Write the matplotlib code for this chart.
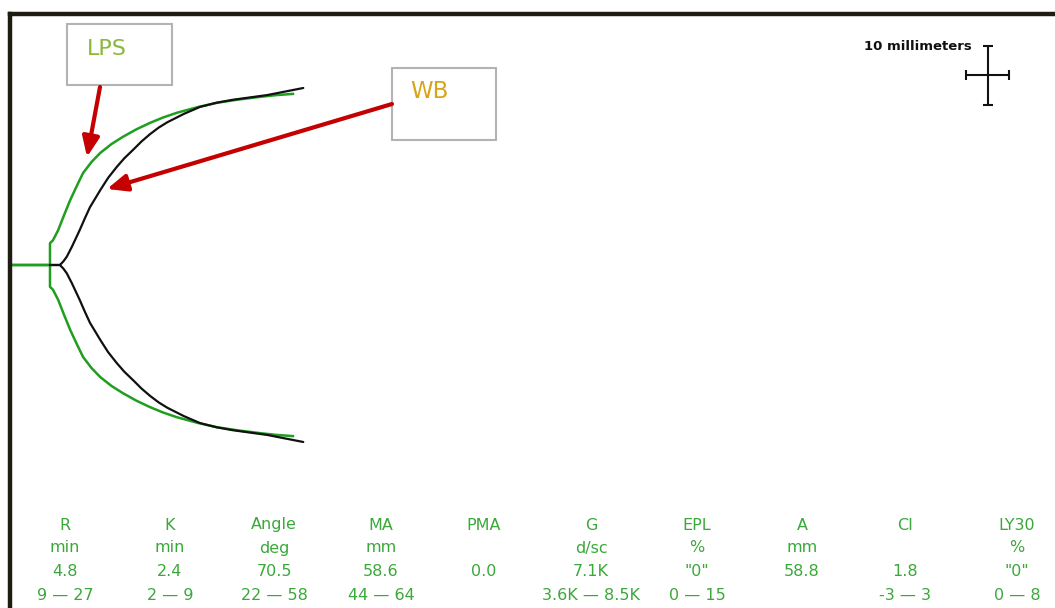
import matplotlib
matplotlib.use("Agg")
import matplotlib.pyplot as plt
from matplotlib.patches import Rectangle

# ---------------- data ----------------
# LPS trace: time (min) vs full amplitude (mm)
lps_time = [0, 4.65, 4.65, 5.0, 5.6, 6.3, 7.0, 7.8, 8.5, 9.5, 10.5, 11.8, 13.1, 14.7,
            16.3, 17.8, 19.4, 21.8, 24.1, 26.6, 29.1, 31.0, 32.9]
lps_amp = [0, 0, 7.4, 8.4, 11.8, 17.0, 22.0, 27.0, 31.2, 35.0, 38.0, 41.0, 43.4, 46.0,
           48.2, 50.0, 51.6, 53.5, 55.0, 56.1, 57.0, 57.6, 58.0]
# WB trace
wb_time = [4.65, 5.8, 6.2, 6.6, 7.2, 8.1, 8.7, 9.3, 10.5, 11.4, 12.4, 13.3, 14.3, 15.3,
           16.3, 17.3, 18.3, 20.2, 22.1, 24.0, 25.9, 29.9, 34.1]
wb_amp = [0, 0, 1.2, 2.8, 6.2, 11.8, 15.8, 19.6, 25.4, 29.5, 33.2, 36.2, 39.0, 41.9,
          44.4, 46.6, 48.4, 51.2, 53.6, 55.0, 56.0, 57.6, 60.0]

params = ["R", "K", "Angle", "MA", "PMA", "G", "EPL", "A", "CI", "LY30"]
units = ["min", "min", "deg", "mm", "", "d/sc", "%", "mm", "", "%"]
values = ["4.8", "2.4", "70.5", "58.6", "0.0", "7.1K", "\"0\"", "58.8", "1.8", "\"0\""]
ranges = ["9 \u2014 27", "2 \u2014 9", "22 \u2014 58", "44 \u2014 64", "", "3.6K \u2014 8.5K",
          "0 \u2014 15", "", "-3 \u2014 3", "0 \u2014 8"]

scale_mm = 10          # scale bar length (mm)
chart_speed = 2.0      # mm per minute

# ---------------- layout ----------------
W, H = 1055, 608
fig = plt.figure(figsize=(W / 100, H / 100), dpi=100)
fig.patch.set_facecolor("white")

px_per_min = 8.6
px_per_mm = 5.9
x0_px, top_px, center_px = 10, 14, 265

ax = fig.add_axes([x0_px / W, 0, (W - x0_px) / W, (H - top_px) / H])
ax.set_xlim(0, (W - x0_px) / px_per_min)
ax.set_ylim(-(H - center_px) / px_per_mm, (center_px - top_px) / px_per_mm)
ax.set_xticks([]); ax.set_yticks([])
for s in ["right", "bottom"]:
    ax.spines[s].set_visible(False)
for s in ["left", "top"]:
    ax.spines[s].set_linewidth(3.2)
    ax.spines[s].set_color("#1e1c12")

green = "#1f9e1f"
lps_half = [a / 2 for a in lps_amp]
wb_half = [a / 2 for a in wb_amp]
ax.plot(wb_time, wb_half, color="#111111", lw=1.6, zorder=3, solid_capstyle="round",
        solid_joinstyle="round")
ax.plot(wb_time, [-v for v in wb_half], color="#111111", lw=1.6, zorder=3,
        solid_capstyle="round", solid_joinstyle="round")
ax.plot(lps_time, lps_half, color=green, lw=1.8, zorder=2, solid_joinstyle="round")
ax.plot(lps_time, [-v for v in lps_half], color=green, lw=1.8, zorder=2,
        solid_joinstyle="round")

# scale bar (10 mm each direction)
sb_t = (988 - x0_px) / px_per_min
sb_y = (center_px - 75) / px_per_mm
ax.errorbar([sb_t], [sb_y], xerr=scale_mm / chart_speed / 2, yerr=scale_mm / 2,
            fmt="none", ecolor="#111111", elinewidth=1.5, capsize=3.5, capthick=1.5)

# overlay in pixel coords for annotations and table
ov = fig.add_axes([0, 0, 1, 1], facecolor="none")
ov.set_xlim(0, W); ov.set_ylim(H, 0); ov.axis("off")

ov.text(972, 47, "10 millimeters", ha="right", va="center", fontsize=9.5,
        fontweight="bold", color="#111111")

# boxes
ov.add_patch(Rectangle((67, 24), 105, 61, fill=True, facecolor="white",
                       edgecolor="#b3b3b3", lw=1.5))
ov.text(87, 49, "LPS", ha="left", va="center", fontsize=16, color="#8ab83c")
ov.add_patch(Rectangle((392, 68), 104, 72, fill=True, facecolor="white",
                       edgecolor="#b3b3b3", lw=1.5))
ov.text(410, 92, "WB", ha="left", va="center", fontsize=16.5, color="#d9a418")

red = "#c40000"
arrow = dict(arrowstyle="-|>,head_length=0.8,head_width=0.34", color=red, lw=3,
             mutation_scale=15, shrinkA=0, shrinkB=0)
ov.annotate("", xy=(87, 157), xytext=(100, 87), arrowprops=arrow)
ov.annotate("", xy=(107, 189), xytext=(392, 104), arrowprops=arrow)

# parameter table
col_x = [65, 170, 274, 381, 484, 591, 697, 802, 905, 1017]
row_y = [525, 548, 572, 595]
tcol = "#3aa83a"
for i, cx in enumerate(col_x):
    for ry, txt in zip(row_y, [params[i], units[i], values[i], ranges[i]]):
        if txt:
            ov.text(cx, ry, txt, ha="center", va="center", fontsize=11.5,
                    color=tcol)

fig.savefig("out.png", dpi=100, facecolor="white")
